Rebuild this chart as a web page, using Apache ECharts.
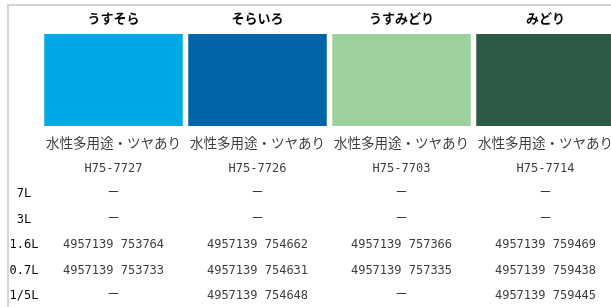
<!DOCTYPE html>
<html>
<head>
<meta charset="utf-8">
<script src="https://cdn.jsdelivr.net/npm/echarts@6/dist/echarts.min.js"></script>
<style>
  html, body { margin: 0; padding: 0; background: #fff; }
  #chart { width: 611px; height: 307px; }
</style>
</head>
<body>
<div id="chart"></div>
<script>
// colour columns
const colorNames = ['うすそら', 'そらいろ', 'うすみどり', 'みどり'];
const swatchColors = ['#00a9e6', '#0065a7', '#9dd19b', '#2b5a45'];
const productType = '水性多用途・ツヤあり';
const productCodes = ['H75-7727', 'H75-7726', 'H75-7703', 'H75-7714'];

// can sizes (rows) and JAN codes per colour
const sizes = ['7L', '3L', '1.6L', '0.7L', '1/5L'];
const janCodes = [
  ['ー', 'ー', '4957139 753764', '4957139 753733', 'ー'],
  ['ー', 'ー', '4957139 754662', '4957139 754631', '4957139 754648'],
  ['ー', 'ー', '4957139 757366', '4957139 757335', 'ー'],
  ['ー', 'ー', '4957139 759469', '4957139 759438', '4957139 759445']
];

const rowKeys = ['type', 'code'].concat(sizes);
const textColor = '#0a0a0a';
const monoFont = "'DejaVu Sans Mono', 'Noto Sans CJK JP', monospace";
const jpFont = "'Noto Sans CJK JP', sans-serif";

const typeCells = [];
const codeCells = [];
colorNames.forEach((c, i) => {
  typeCells.push({ value: [i, 'type'], text: productType });
  codeCells.push({ value: [i, 'code'], text: productCodes[i] });
  sizes.forEach((s, j) => {
    codeCells.push({ value: [i, s], text: janCodes[i][j] });
  });
});

const chart = echarts.init(document.getElementById('chart'));
chart.setOption({
  animation: false,
  grid: [
    { left: 41.5, width: 576, top: 34, height: 92, outerBoundsMode: 'none', containLabel: false },
    { left: 41.5, width: 576, top: 130.25, height: 178.5, outerBoundsMode: 'none', containLabel: false }
  ],
  xAxis: [
    {
      gridIndex: 0, type: 'category', position: 'top', data: colorNames,
      axisLine: { show: false }, axisTick: { show: false },
      axisLabel: { margin: 9.5, fontSize: 13, fontWeight: 'bold', color: textColor, fontFamily: jpFont }
    },
    {
      gridIndex: 1, type: 'category', data: colorNames, show: false
    }
  ],
  yAxis: [
    { gridIndex: 0, type: 'value', min: 0, max: 1, show: false },
    {
      gridIndex: 1, type: 'category', data: rowKeys, inverse: true,
      axisLine: { show: false }, axisTick: { show: false }, splitLine: { show: false },
      axisLabel: {
        align: 'center', margin: 17.5, fontSize: 12, color: textColor, fontFamily: monoFont,
        formatter: v => (sizes.indexOf(v) >= 0 ? v : '')
      }
    }
  ],
  graphic: [{
    type: 'polyline',
    shape: { points: [[8, 307], [8, 5], [611, 5]] },
    style: { stroke: '#d4d4d4', lineWidth: 2, fill: null },
    silent: true
  }],
  series: [
    {
      type: 'bar', xAxisIndex: 0, yAxisIndex: 0, barWidth: 138.5,
      data: colorNames.map((c, i) => ({ value: 1, itemStyle: { color: swatchColors[i] } }))
    },
    {
      type: 'scatter', xAxisIndex: 1, yAxisIndex: 1, symbolSize: 0,
      data: typeCells,
      label: {
        show: true, position: 'inside', formatter: p => p.data.text,
        fontSize: 13.5, color: textColor, fontFamily: jpFont
      }
    },
    {
      type: 'scatter', xAxisIndex: 1, yAxisIndex: 1, symbolSize: 0,
      data: codeCells,
      label: {
        show: true, position: 'inside', formatter: p => p.data.text,
        fontSize: 12, color: textColor, fontFamily: monoFont
      }
    }
  ]
});
</script>
</body>
</html>
